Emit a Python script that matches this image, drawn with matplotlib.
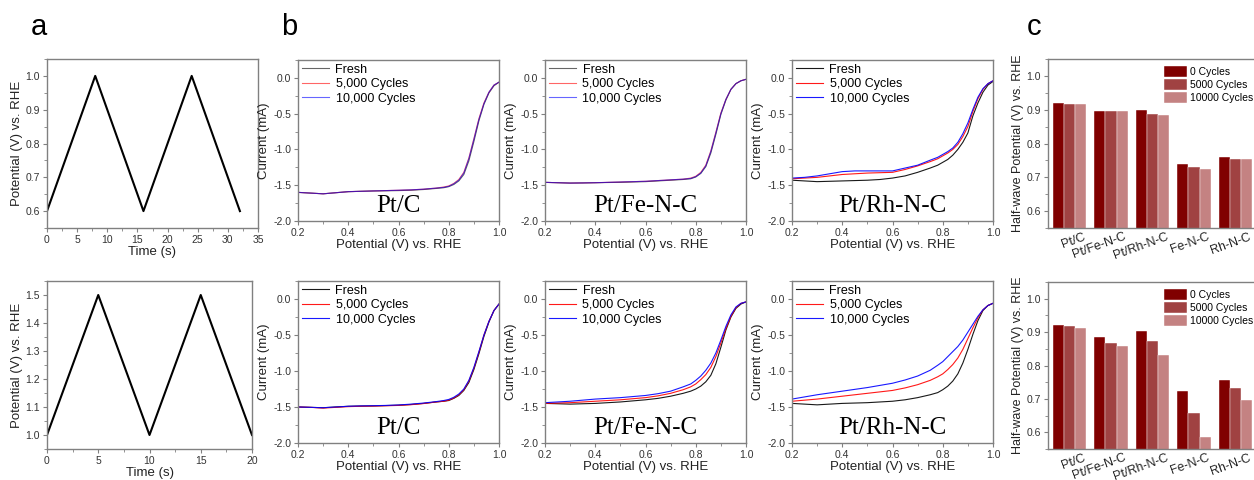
import numpy as np
import matplotlib
matplotlib.use('Agg')
import matplotlib.pyplot as plt
from matplotlib.ticker import AutoMinorLocator, FormatStrFormatter
import matplotlib.transforms as mtransforms

plt.rcParams['font.family'] = ['Liberation Sans', 'DejaVu Sans']

W, H = 1254, 480

# --- panel a: potential cycling profiles ---
t_top = [0, 8, 16, 24, 32]
v_top = [0.6, 1.0, 0.6, 1.0, 0.6]
t_bot = [0, 5, 10, 15, 20]
v_bot = [1.0, 1.5, 1.0, 1.5, 1.0]

# --- panel b: LSV curves, current (mA) read at these potentials (V) ---
lsv_x = [0.2, 0.25, 0.3, 0.35, 0.4, 0.45, 0.5, 0.55, 0.6, 0.65, 0.7, 0.75,
         0.78, 0.8, 0.82, 0.84, 0.86, 0.88, 0.9, 0.92, 0.94, 0.96, 0.98, 1.0]

# row 1
ptc1_fresh = [-1.60, -1.61, -1.62, -1.605, -1.59, -1.585, -1.58, -1.578, -1.575, -1.57, -1.56, -1.545,
              -1.535, -1.52, -1.49, -1.44, -1.35, -1.16, -0.89, -0.60, -0.37, -0.21, -0.11, -0.06]
ptc1_5k = [-1.60, -1.61, -1.62, -1.605, -1.59, -1.585, -1.58, -1.575, -1.57, -1.565, -1.555, -1.54,
           -1.525, -1.51, -1.475, -1.42, -1.32, -1.12, -0.85, -0.57, -0.35, -0.20, -0.10, -0.06]
ptc1_10k = [-1.60, -1.61, -1.62, -1.605, -1.59, -1.585, -1.58, -1.575, -1.57, -1.565, -1.555, -1.54,
            -1.53, -1.515, -1.48, -1.43, -1.33, -1.13, -0.86, -0.58, -0.36, -0.20, -0.10, -0.06]

ptfe1_fresh = [-1.46, -1.465, -1.47, -1.468, -1.465, -1.462, -1.46, -1.455, -1.45, -1.44, -1.43, -1.42,
               -1.41, -1.385, -1.335, -1.24, -1.05, -0.79, -0.51, -0.31, -0.16, -0.08, -0.04, -0.02]
ptfe1_5k = [-1.46, -1.465, -1.47, -1.468, -1.465, -1.46, -1.455, -1.45, -1.445, -1.435, -1.425, -1.415,
            -1.40, -1.375, -1.32, -1.22, -1.02, -0.76, -0.49, -0.30, -0.16, -0.08, -0.04, -0.02]
ptfe1_10k = [-1.46, -1.465, -1.47, -1.468, -1.465, -1.46, -1.455, -1.45, -1.445, -1.435, -1.425, -1.415,
             -1.405, -1.38, -1.33, -1.23, -1.03, -0.77, -0.50, -0.30, -0.16, -0.08, -0.04, -0.02]

ptrh1_fresh = [-1.43, -1.44, -1.45, -1.445, -1.44, -1.435, -1.43, -1.42, -1.40, -1.37, -1.32, -1.26,
               -1.22, -1.18, -1.14, -1.08, -1.00, -0.90, -0.77, -0.53, -0.35, -0.20, -0.10, -0.05]
ptrh1_5k = [-1.41, -1.40, -1.39, -1.37, -1.35, -1.34, -1.33, -1.325, -1.32, -1.28, -1.23, -1.17,
            -1.13, -1.09, -1.05, -1.00, -0.93, -0.82, -0.68, -0.47, -0.29, -0.16, -0.08, -0.04]
ptrh1_10k = [-1.40, -1.39, -1.37, -1.34, -1.31, -1.30, -1.30, -1.30, -1.30, -1.26, -1.22, -1.15,
             -1.11, -1.07, -1.03, -0.98, -0.90, -0.78, -0.63, -0.44, -0.27, -0.15, -0.08, -0.04]

# row 2
ptc2_fresh = [-1.50, -1.505, -1.51, -1.50, -1.49, -1.487, -1.485, -1.48, -1.475, -1.465, -1.45, -1.43,
              -1.42, -1.41, -1.38, -1.34, -1.27, -1.16, -0.98, -0.76, -0.52, -0.32, -0.16, -0.07]
ptc2_5k = [-1.50, -1.505, -1.515, -1.505, -1.495, -1.49, -1.487, -1.483, -1.478, -1.468, -1.452, -1.43,
           -1.42, -1.405, -1.375, -1.33, -1.26, -1.14, -0.96, -0.74, -0.50, -0.31, -0.16, -0.07]
ptc2_10k = [-1.50, -1.505, -1.51, -1.50, -1.49, -1.485, -1.482, -1.478, -1.472, -1.46, -1.445, -1.425,
            -1.41, -1.395, -1.365, -1.32, -1.25, -1.13, -0.95, -0.73, -0.50, -0.31, -0.16, -0.07]

ptfe2_fresh = [-1.45, -1.455, -1.46, -1.455, -1.45, -1.44, -1.43, -1.415, -1.40, -1.38, -1.35, -1.31,
               -1.28, -1.25, -1.21, -1.15, -1.06, -0.90, -0.67, -0.43, -0.25, -0.13, -0.07, -0.04]
ptfe2_5k = [-1.45, -1.445, -1.44, -1.43, -1.42, -1.41, -1.40, -1.385, -1.37, -1.345, -1.31, -1.26,
            -1.22, -1.18, -1.12, -1.05, -0.95, -0.80, -0.61, -0.41, -0.24, -0.12, -0.06, -0.04]
ptfe2_10k = [-1.44, -1.43, -1.42, -1.405, -1.39, -1.38, -1.37, -1.355, -1.34, -1.315, -1.28, -1.22,
             -1.18, -1.13, -1.07, -0.99, -0.89, -0.75, -0.57, -0.38, -0.22, -0.11, -0.06, -0.04]

ptrh2_fresh = [-1.45, -1.46, -1.47, -1.46, -1.45, -1.445, -1.44, -1.43, -1.42, -1.40, -1.37, -1.33,
               -1.30, -1.26, -1.21, -1.14, -1.04, -0.89, -0.70, -0.49, -0.30, -0.16, -0.09, -0.06]
ptrh2_5k = [-1.42, -1.405, -1.39, -1.37, -1.35, -1.33, -1.31, -1.29, -1.27, -1.235, -1.19, -1.13,
            -1.08, -1.04, -0.98, -0.91, -0.82, -0.70, -0.55, -0.40, -0.26, -0.15, -0.09, -0.06]
ptrh2_10k = [-1.39, -1.36, -1.33, -1.305, -1.28, -1.255, -1.23, -1.20, -1.17, -1.125, -1.07, -0.99,
             -0.92, -0.87, -0.80, -0.73, -0.66, -0.57, -0.46, -0.35, -0.24, -0.15, -0.09, -0.06]

lsv_labels = ['Fresh', '5,000 Cycles', '10,000 Cycles']

# --- panel c: half-wave potentials ---
catalysts = ['Pt/C', 'Pt/Fe-N-C', 'Pt/Rh-N-C', 'Fe-N-C', 'Rh-N-C']
bar_labels = ['0 Cycles', '5000 Cycles', '10000 Cycles']
e_half_top_0 = [0.920, 0.896, 0.898, 0.739, 0.759]
e_half_top_5k = [0.918, 0.896, 0.888, 0.729, 0.755]
e_half_top_10k = [0.918, 0.895, 0.883, 0.726, 0.754]
e_half_bot_0 = [0.920, 0.884, 0.903, 0.725, 0.756]
e_half_bot_5k = [0.918, 0.868, 0.873, 0.657, 0.733]
e_half_bot_10k = [0.913, 0.858, 0.831, 0.585, 0.697]

SPINE = '#808080'
TXT = '#222222'


def make_ax(fig, x0, x1, y0, y1):
    # pixel box -> figure fraction
    return fig.add_axes([x0 / W, 1 - y1 / H, (x1 - x0) / W, (y1 - y0) / H])


def style(ax, minor_y=True):
    for s in ax.spines.values():
        s.set_color(SPINE)
        s.set_linewidth(1.0)
    ax.tick_params(which='major', direction='out', length=3, width=0.8, color=SPINE,
                   labelsize=7.5, labelcolor='#333333', pad=2)
    ax.tick_params(which='minor', direction='out', length=2, width=0.6, color=SPINE)
    ax.xaxis.set_minor_locator(AutoMinorLocator(2))
    if minor_y:
        ax.yaxis.set_minor_locator(AutoMinorLocator(2))


def plot_profile(ax, t, v, xmax, xticks, ylim, yticks):
    ax.plot(t, v, color='black', lw=1.5)
    ax.set_xlim(0, xmax)
    ax.set_xticks(xticks)
    ax.set_ylim(*ylim)
    ax.set_yticks(yticks)
    ax.yaxis.set_major_formatter(FormatStrFormatter('%.1f'))
    style(ax)
    ax.set_xlabel('Time (s)', fontsize=9.5, color=TXT, labelpad=1)
    ax.set_ylabel('Potential (V) vs. RHE', fontsize=9.5, color=TXT, labelpad=2)


def plot_lsv(ax, curves, name, pale=False):
    colors = ['#000000', '#ff0000', '#0000ff']
    for y, c, lab in zip(curves, colors, lsv_labels):
        ax.plot(lsv_x, y, color=c, lw=0.8, alpha=0.6 if pale else 0.9, label=lab)
    ax.set_xlim(0.2, 1.0)
    ax.set_ylim(-2.0, 0.25)
    ax.set_xticks([0.2, 0.4, 0.6, 0.8, 1.0])
    ax.set_yticks([-2.0, -1.5, -1.0, -0.5, 0.0])
    ax.yaxis.set_major_formatter(FormatStrFormatter('%.1f'))
    style(ax)
    ax.set_xlabel('Potential (V) vs. RHE', fontsize=9.5, color=TXT, labelpad=1)
    ax.set_ylabel('Current (mA)', fontsize=9.5, color=TXT, labelpad=2)
    ax.legend(loc='upper left', frameon=False, fontsize=9, handlelength=2.2,
              labelspacing=0.2, borderaxespad=0.1, borderpad=0.2, handletextpad=0.5)
    ax.text(0.5, 0.025, name, transform=ax.transAxes, ha='center', va='bottom',
            fontsize=18, family='Liberation Serif', color='black')


def plot_bars(ax, vals):
    colors = ['#800000', '#a04242', '#c48282']
    pos = np.arange(len(catalysts))
    bw = 0.27
    for i, (v, c, lab) in enumerate(zip(vals, colors, bar_labels)):
        ax.bar(pos + (i - 1) * bw, v, width=bw, color=c, edgecolor='white', linewidth=0.3, label=lab)
    ax.set_xlim(-0.52, 4.52)
    ax.set_ylim(0.55, 1.05)
    ax.set_yticks([0.6, 0.7, 0.8, 0.9, 1.0])
    ax.yaxis.set_major_formatter(FormatStrFormatter('%.1f'))
    style(ax, minor_y=True)
    ax.xaxis.set_minor_locator(plt.NullLocator())
    ax.set_xticks(pos)
    ax.set_xticklabels(catalysts, rotation=20, ha='right', rotation_mode='anchor', fontsize=9, color=TXT)
    ax.tick_params(axis='x', length=0, pad=2)
    offset = mtransforms.ScaledTranslation(0.13, 0, ax.figure.dpi_scale_trans)
    for lbl in ax.get_xticklabels():
        lbl.set_transform(lbl.get_transform() + offset)
    ax.set_ylabel('Half-wave Potential (V) vs. RHE', fontsize=9, color=TXT, labelpad=2)
    ax.legend(loc='upper left', bbox_to_anchor=(0.52, 1.0), frameon=False, fontsize=7.5,
              handlelength=2.2, handleheight=1.2, labelspacing=0.2, borderpad=0.2,
              handletextpad=0.3)


fig = plt.figure(figsize=(W / 100, H / 100), dpi=100)

# row 1
ax = make_ax(fig, 47, 258, 59, 228)
plot_profile(ax, t_top, v_top, 35, [0, 5, 10, 15, 20, 25, 30, 35], (0.55, 1.05), [0.6, 0.7, 0.8, 0.9, 1.0])
ax = make_ax(fig, 298, 499, 60, 221)
plot_lsv(ax, [ptc1_fresh, ptc1_5k, ptc1_10k], 'Pt/C', pale=True)
ax = make_ax(fig, 545, 746, 60, 221)
plot_lsv(ax, [ptfe1_fresh, ptfe1_5k, ptfe1_10k], 'Pt/Fe-N-C', pale=True)
ax = make_ax(fig, 792, 993, 60, 221)
plot_lsv(ax, [ptrh1_fresh, ptrh1_5k, ptrh1_10k], 'Pt/Rh-N-C')
ax = make_ax(fig, 1048, 1257, 59, 228)
plot_bars(ax, [e_half_top_0, e_half_top_5k, e_half_top_10k])

# row 2
ax = make_ax(fig, 47, 252, 281, 449)
plot_profile(ax, t_bot, v_bot, 20, [0, 5, 10, 15, 20], (0.95, 1.55), [1.0, 1.1, 1.2, 1.3, 1.4, 1.5])
ax = make_ax(fig, 298, 499, 281, 443)
plot_lsv(ax, [ptc2_fresh, ptc2_5k, ptc2_10k], 'Pt/C')
ax = make_ax(fig, 545, 746, 281, 443)
plot_lsv(ax, [ptfe2_fresh, ptfe2_5k, ptfe2_10k], 'Pt/Fe-N-C')
ax = make_ax(fig, 792, 993, 281, 443)
plot_lsv(ax, [ptrh2_fresh, ptrh2_5k, ptrh2_10k], 'Pt/Rh-N-C')
ax = make_ax(fig, 1048, 1257, 282, 449)
plot_bars(ax, [e_half_bot_0, e_half_bot_5k, e_half_bot_10k])

# panel letters
for px, letter in [(31, 'a'), (281, 'b'), (1027, 'c')]:
    fig.text(px / W, 1 - 35 / H, letter, fontsize=21, color='black', va='baseline')

fig.savefig('out.png', dpi=100)
